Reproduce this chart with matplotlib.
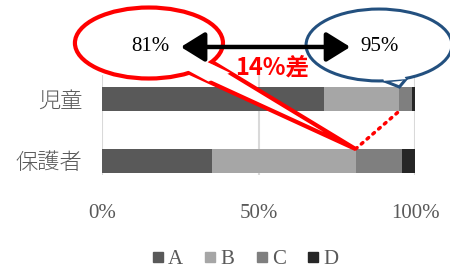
import numpy as np
import matplotlib
matplotlib.use("Agg")
import matplotlib.pyplot as plt
from matplotlib.patches import Ellipse, Polygon, FancyArrowPatch
from matplotlib.lines import Line2D

# data
groups = ["保護者", "児童"]
series = ["A", "B", "C", "D"]
child = [71, 24, 4, 1]
guardian = [35, 46, 15, 4]
colors = ["#595959", "#a6a6a6", "#7f7f7f", "#262626"]
x_ticks = [0, 50, 100]
x_labels = ["0%", "50%", "100%"]

serif = "Liberation Serif"
cjk = ["Noto Sans CJK JP", "DejaVu Sans"]
gray = "#595959"

fig = plt.figure(figsize=(4.5, 2.7), dpi=100)
ax = fig.add_axes([102 / 450, 1 - 175 / 270, 313 / 450, 100 / 270])

values = np.array([guardian, child])
left = np.zeros(len(groups))
y = np.arange(len(groups))
bar_h = 0.387
for i, name in enumerate(series):
    ax.barh(y, values[:, i], left=left, height=bar_h, color=colors[i],
            label=name, zorder=2)
    left += values[:, i]

ax.set_xlim(0, 100)
ax.set_ylim(-0.226, 1.387)
ax.set_xticks(x_ticks)
ax.set_xticklabels(x_labels, family=serif, fontsize=15, color=gray)
ax.set_yticks(y)
ax.set_yticklabels(groups, family=cjk, fontsize=16, color=gray, fontweight="light")
ax.tick_params(length=0)
ax.tick_params(axis="x", pad=21)
ax.tick_params(axis="y", pad=14)
for s in ax.spines.values():
    s.set_visible(False)
ax.xaxis.grid(True, color="#d9d9d9", lw=1.5)
ax.set_axisbelow(True)

# cumulative A+B
ab_guard = guardian[0] + guardian[1]
ab_child = child[0] + child[1]
top_guard = 0 + bar_h / 2
top_child = 1 + bar_h / 2
bot_child = 1 - bar_h / 2


def bubble(center, w, h, base, tip, color, lw, z):
    tail = [base[0], tip, base[1]]
    ax.add_patch(Polygon(tail, closed=True, fc="white", ec=color, lw=lw,
                         zorder=z, clip_on=False, joinstyle="miter"))
    ax.add_patch(Ellipse(center, w, h, fc="white", ec=color, lw=lw,
                         zorder=z + 1, clip_on=False))
    # cover the ellipse edge where the tail joins
    cx, cy = center
    inner = [(cx + 0.8 * (bx - cx), cy + 0.8 * (by - cy)) for bx, by in base]
    out = [(bx + 0.12 * (tip[0] - bx), by + 0.12 * (tip[1] - by)) for bx, by in base]
    ax.add_patch(Polygon([inner[0], out[0], out[1], inner[1]], closed=True,
                         fc="white", ec="none", zorder=z + 2, clip_on=False))


bubble((15.0, 1.903), 47.3, 1.145, [(27.6, 1.43), (35.4, 1.59)],
       (ab_guard, top_guard), "#ff0000", 3.0, 5)
bubble((88.5, 1.871), 46.6, 1.16, [(89.4, 1.306), (97.4, 1.338)],
       (ab_child, top_child), "#23507f", 2.2, 5)

ax.text(15.3, 1.839, f"{ab_guard}%", family=serif, fontsize=15, ha="center",
        va="center", zorder=10, clip_on=False)
ax.text(88.8, 1.839, f"{ab_child}%", family=serif, fontsize=15, ha="center",
        va="center", zorder=10, clip_on=False)

arrow = FancyArrowPatch((24.3, 1.839), (80.2, 1.839),
                        arrowstyle="<|-|>,head_length=1.45,head_width=0.9",
                        mutation_scale=10, color="black", lw=3.2,
                        zorder=11, clip_on=False)
ax.add_patch(arrow)

ax.text(54.3, 1.50, f"{ab_child - ab_guard}%差", family=cjk, fontsize=17,
        fontweight="bold", color="#ff0000", ha="center", va="center",
        zorder=10, clip_on=False)

ax.plot([ab_guard, ab_child], [top_guard, bot_child], color="#ff0000", lw=2.5,
        ls=(0, (0.6, 1.6)), dash_capstyle="round", zorder=9, clip_on=False)

handles = [Line2D([], [], marker="s", ls="none", color=c, markersize=7.5)
           for c in colors]
leg = fig.legend(handles, series, loc="center", bbox_to_anchor=(244 / 450, 1 - 259 / 270),
                 ncol=4, frameon=False, handlelength=0.8, handletextpad=0.1,
                 columnspacing=0.9, prop={"family": serif, "size": 15})
for t in leg.get_texts():
    t.set_color(gray)

fig.savefig("out.png", dpi=100)
